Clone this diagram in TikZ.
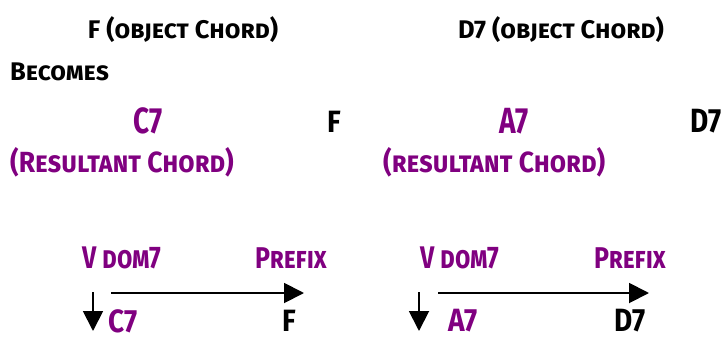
\documentclass[tikz,border=0pt]{standalone}
\usepackage{fontspec}
\usepackage{graphicx}
\setmainfont{Fira Sans}[Letters=SmallCaps]
\usetikzlibrary{arrows.meta}
\definecolor{chordpurple}{RGB}{128,0,128}
\newcommand\vst[2]{\scalebox{1}[#1]{#2}}
\tikzset{
  ttl/.style={inner sep=0pt, font=\bfseries\fontsize{25.5}{27}\selectfont},
  res/.style={inner sep=0pt, font=\bfseries\fontsize{26.5}{28}\selectfont},
  sub/.style={inner sep=0pt, font=\bfseries\fontsize{25}{27}\selectfont},
  big/.style={inner sep=0pt, font=\bfseries\fontsize{28}{30}\selectfont},
  pur/.style={text=chordpurple},
  arr/.style={line width=1.9pt, -{Triangle[length=20pt,width=20pt]}}
}
\begin{document}
\begin{tikzpicture}[x=1pt,y=-1pt]
\useasboundingbox (0,0) rectangle (722,337);
\node[ttl] (t1) at (183,30) {F (object Chord)};
\node[ttl] (t2) at (561,30) {D7 (object Chord)};
\node[ttl, anchor=west] (bec) at (10,72) {Becomes};
\node[big,pur] (c7a) at (148,120.5) {\vst{1.3}{C7}};
\node[big] (fa) at (334,122) {\vst{1.1}{F}};
\node[big,pur] (a7a) at (514,121) {\vst{1.3}{A7}};
\node[big] (d7a) at (706,121) {\vst{1.2}{D7}};
\node[res,pur, anchor=west] (res1) at (10,162) {\vst{1.1}{(Resultant Chord)}};
\node[res,pur, anchor=west] (res2) at (383,162) {\vst{1.1}{(resultant Chord)}};
\node[sub,pur] (vd1) at (122,258) {\vst{1.25}{V dom7}};
\node[sub,pur] (pf1) at (291,258) {\vst{1.2}{Prefix}};
\node[sub,pur] (vd2) at (460,258) {\vst{1.25}{V dom7}};
\node[sub,pur] (pf2) at (630,258) {\vst{1.2}{Prefix}};
\node[big,pur, anchor=west] (c7b) at (108,321) {\vst{1.15}{C7}};
\node[big] (fb) at (289,321) {\vst{1.1}{F}};
\node[big,pur, anchor=west] (a7b) at (448,321) {\vst{1.15}{A7}};
\node[big] (d7b) at (630,321) {\vst{1.15}{D7}};
\coordinate (d1s) at (93,292); \coordinate (d1e) at (93,331);
\coordinate (d2s) at (419,292); \coordinate (d2e) at (419,331);
\coordinate (h1s) at (111,293); \coordinate (h1e) at (304,293);
\coordinate (h2s) at (438,293); \coordinate (h2e) at (649,293);
\draw[arr] (d1s) -- (d1e);
\draw[arr] (d2s) -- (d2e);
\draw[arr] (h1s) -- (h1e);
\draw[arr] (h2s) -- (h2e);
\end{tikzpicture}
\end{document}
